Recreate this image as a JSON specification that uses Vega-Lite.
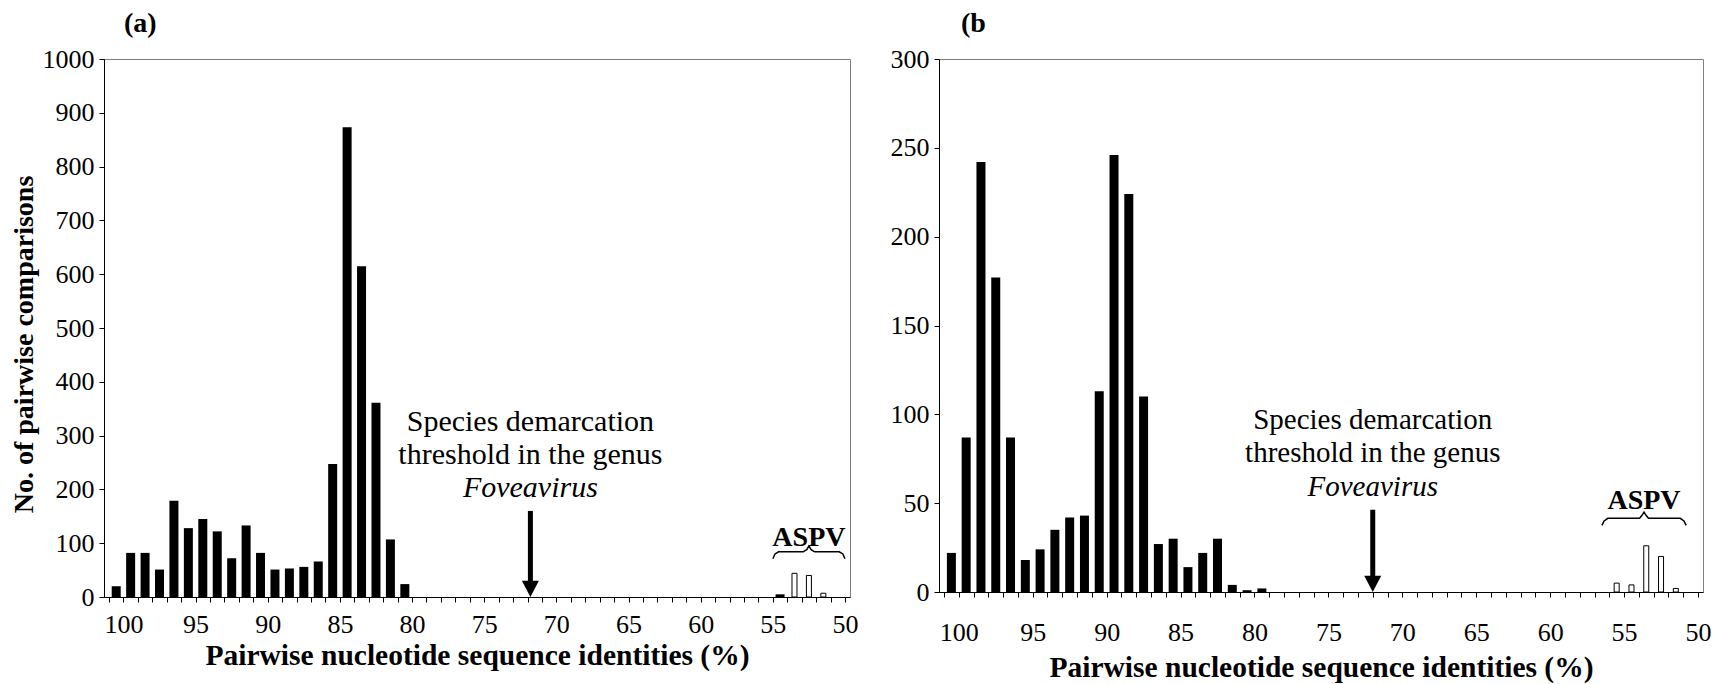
{
  "$schema": "https://vega.github.io/schema/vega-lite/v6.json",
  "background": "white",
  "padding": {"left": 9, "top": 9, "right": 5, "bottom": 3},
  "spacing": 30,
  "config": {
    "font": "Liberation Serif",
    "view": {"stroke": "#808080", "strokeWidth": 1},
    "axis": {
      "grid": false,
      "domainColor": "black",
      "tickColor": "black",
      "labelColor": "black",
      "titleColor": "black",
      "labelFont": "Liberation Serif",
      "titleFont": "Liberation Serif",
      "labelFontSize": 26,
      "titleFontSize": 28,
      "titleFontWeight": "bold",
      "labelFlush": false,
      "labelOverlap": false,
      "labelBound": false
    },
    "title": {"font": "Liberation Serif", "fontSize": 28, "fontWeight": "bold", "color": "black"}
  },
  "datasets": {
    "a_fill": [
      {"identity": 100.5, "count": 20}, {"identity": 99.5, "count": 82}, {"identity": 98.5, "count": 82},
      {"identity": 97.5, "count": 51}, {"identity": 96.5, "count": 179}, {"identity": 95.5, "count": 128},
      {"identity": 94.5, "count": 145}, {"identity": 93.5, "count": 122}, {"identity": 92.5, "count": 72},
      {"identity": 91.5, "count": 133}, {"identity": 90.5, "count": 82}, {"identity": 89.5, "count": 51},
      {"identity": 88.5, "count": 53}, {"identity": 87.5, "count": 56}, {"identity": 86.5, "count": 66},
      {"identity": 85.5, "count": 247}, {"identity": 84.5, "count": 873}, {"identity": 83.5, "count": 615},
      {"identity": 82.5, "count": 361}, {"identity": 81.5, "count": 107}, {"identity": 80.5, "count": 24},
      {"identity": 54.5, "count": 5}
    ],
    "a_open": [
      {"identity": 53.5, "count": 44}, {"identity": 52.5, "count": 40}, {"identity": 51.5, "count": 7}
    ],
    "b_fill": [
      {"identity": 100.5, "count": 22}, {"identity": 99.5, "count": 87}, {"identity": 98.5, "count": 242},
      {"identity": 97.5, "count": 177}, {"identity": 96.5, "count": 87}, {"identity": 95.5, "count": 18},
      {"identity": 94.5, "count": 24}, {"identity": 93.5, "count": 35}, {"identity": 92.5, "count": 42},
      {"identity": 91.5, "count": 43}, {"identity": 90.5, "count": 113}, {"identity": 89.5, "count": 246},
      {"identity": 88.5, "count": 224}, {"identity": 87.5, "count": 110}, {"identity": 86.5, "count": 27},
      {"identity": 85.5, "count": 30}, {"identity": 84.5, "count": 14}, {"identity": 83.5, "count": 22},
      {"identity": 82.5, "count": 30}, {"identity": 81.5, "count": 4}, {"identity": 80.5, "count": 1},
      {"identity": 79.5, "count": 2}
    ],
    "b_open": [
      {"identity": 55.5, "count": 5}, {"identity": 54.5, "count": 4}, {"identity": 53.5, "count": 26},
      {"identity": 52.5, "count": 20}, {"identity": 51.5, "count": 2}
    ],
    "a_arrow": [{"identity": 71.8, "count": 160, "count2": 28}],
    "a_head": [{"identity": 71.8, "count": 0}],
    "a_text": [
      {"identity": 71.8, "count": 309, "label": "Species demarcation"},
      {"identity": 71.8, "count": 247.5, "label": "threshold in the genus"}
    ],
    "a_italic": [{"identity": 71.8, "count": 186, "label": "Foveavirus"}],
    "a_brace": [
      {"identity": 55.0, "count": 71, "ord": 1}, {"identity": 54.85, "count": 80, "ord": 2},
      {"identity": 54.6, "count": 84, "ord": 3}, {"identity": 52.9, "count": 84, "ord": 4},
      {"identity": 52.65, "count": 88, "ord": 5}, {"identity": 52.5, "count": 95, "ord": 6},
      {"identity": 52.35, "count": 88, "ord": 7}, {"identity": 52.1, "count": 84, "ord": 8},
      {"identity": 50.4, "count": 84, "ord": 9}, {"identity": 50.15, "count": 80, "ord": 10},
      {"identity": 50.0, "count": 71, "ord": 11}
    ],
    "a_aspv": [{"identity": 52.5, "count": 95, "label": "ASPV"}],
    "b_arrow": [{"identity": 72, "count": 46.3, "count2": 8.5}],
    "b_head": [{"identity": 72, "count": 0}],
    "b_text": [
      {"identity": 72, "count": 91.5, "label": "Species demarcation"},
      {"identity": 72, "count": 72.9, "label": "threshold in the genus"}
    ],
    "b_italic": [{"identity": 72, "count": 54.3, "label": "Foveavirus"}],
    "b_brace": [
      {"identity": 56.5, "count": 37.5, "ord": 1}, {"identity": 56.35, "count": 40, "ord": 2},
      {"identity": 56.1, "count": 41.5, "ord": 3}, {"identity": 53.95, "count": 41.5, "ord": 4},
      {"identity": 53.8, "count": 43, "ord": 5}, {"identity": 53.65, "count": 45, "ord": 6},
      {"identity": 53.5, "count": 43, "ord": 7}, {"identity": 53.35, "count": 41.5, "ord": 8},
      {"identity": 51.2, "count": 41.5, "ord": 9}, {"identity": 50.95, "count": 40, "ord": 10},
      {"identity": 50.8, "count": 37.5, "ord": 11}
    ],
    "b_aspv": [{"identity": 53.65, "count": 46.5, "label": "ASPV"}]
  },
  "hconcat": [
    {
      "width": 746,
      "height": 538,
      "title": {"text": "(a)", "anchor": "start", "frame": "group", "dx": 20, "offset": 8},
      "encoding": {
        "x": {
          "field": "identity", "type": "quantitative",
          "scale": {"domain": [50, 101], "reverse": true, "nice": false, "zero": false},
          "title": "Pairwise nucleotide sequence identities (%)",
          "axis": {
            "values": [50,51,52,53,54,55,56,57,58,59,60,61,62,63,64,65,66,67,68,69,70,71,72,73,74,75,76,77,78,79,80,81,82,83,84,85,86,87,88,89,90,91,92,93,94,95,96,97,98,99,100,101],
            "labelExpr": "datum.value % 5 === 0 ? datum.label : ''",
            "format": "d", "tickSize": 5, "labelPadding": 9, "titlePadding": 4, "titleFontSize": 29.5
          }
        },
        "y": {
          "field": "count", "type": "quantitative",
          "scale": {"domain": [0, 1000], "nice": false},
          "title": "No. of pairwise comparisons",
          "axis": {"values": [0,100,200,300,400,500,600,700,800,900,1000], "format": "d", "tickSize": 5, "labelPadding": 5, "titlePadding": 4, "titleY": 285}
        }
      },
      "layer": [
        {"data": {"name": "a_fill"}, "mark": {"type": "bar", "orient": "vertical", "size": 9, "color": "black"}},
        {"data": {"name": "a_open"}, "mark": {"type": "bar", "orient": "vertical", "size": 5, "fill": "white", "stroke": "black", "strokeWidth": 1}},
        {"data": {"name": "a_arrow"}, "mark": {"type": "rule", "color": "black", "strokeWidth": 5, "strokeCap": "butt"}, "encoding": {"y2": {"field": "count2"}}},
        {"data": {"name": "a_head"}, "mark": {"type": "point", "shape": "M-1,-1.9L1,-1.9L0,0Z", "size": 289, "filled": true, "color": "black", "opacity": 1, "strokeWidth": 0}},
        {"data": {"name": "a_text"}, "mark": {"type": "text", "fontSize": 30, "baseline": "alphabetic", "align": "center", "color": "black"}, "encoding": {"text": {"field": "label"}}},
        {"data": {"name": "a_italic"}, "mark": {"type": "text", "fontSize": 30, "fontStyle": "italic", "baseline": "alphabetic", "align": "center", "color": "black"}, "encoding": {"text": {"field": "label"}}},
        {"data": {"name": "a_brace"}, "mark": {"type": "line", "color": "black", "strokeWidth": 1.5}, "encoding": {"order": {"field": "ord"}}},
        {"data": {"name": "a_aspv"}, "mark": {"type": "text", "fontSize": 28, "fontWeight": "bold", "baseline": "alphabetic", "align": "center", "color": "black"}, "encoding": {"text": {"field": "label"}}}
      ]
    },
    {
      "width": 764,
      "height": 533,
      "title": {"text": "(b", "anchor": "start", "frame": "group", "dx": 22, "offset": 8},
      "encoding": {
        "x": {
          "field": "identity", "type": "quantitative",
          "scale": {"domain": [50, 101], "reverse": true, "nice": false, "zero": false},
          "title": "Pairwise nucleotide sequence identities (%)",
          "axis": {
            "values": [50,51,52,53,54,55,56,57,58,59,60,61,62,63,64,65,66,67,68,69,70,71,72,73,74,75,76,77,78,79,80,81,82,83,84,85,86,87,88,89,90,91,92,93,94,95,96,97,98,99,100,101],
            "labelExpr": "datum.value % 5 === 0 ? datum.label : ''",
            "format": "d", "tickSize": 5, "labelPadding": 22, "titlePadding": 8, "titleFontSize": 29.5
          }
        },
        "y": {
          "field": "count", "type": "quantitative",
          "scale": {"domain": [0, 300], "nice": false},
          "title": null,
          "axis": {"values": [0,50,100,150,200,250,300], "format": "d", "tickSize": 5, "labelPadding": 5}
        }
      },
      "layer": [
        {"data": {"name": "b_fill"}, "mark": {"type": "bar", "orient": "vertical", "size": 9, "color": "black"}},
        {"data": {"name": "b_open"}, "mark": {"type": "bar", "orient": "vertical", "size": 5, "fill": "white", "stroke": "black", "strokeWidth": 1}},
        {"data": {"name": "b_arrow"}, "mark": {"type": "rule", "color": "black", "strokeWidth": 5, "strokeCap": "butt"}, "encoding": {"y2": {"field": "count2"}}},
        {"data": {"name": "b_head"}, "mark": {"type": "point", "shape": "M-1,-1.9L1,-1.9L0,0Z", "size": 289, "filled": true, "color": "black", "opacity": 1, "strokeWidth": 0}},
        {"data": {"name": "b_text"}, "mark": {"type": "text", "fontSize": 29, "baseline": "alphabetic", "align": "center", "color": "black"}, "encoding": {"text": {"field": "label"}}},
        {"data": {"name": "b_italic"}, "mark": {"type": "text", "fontSize": 29, "fontStyle": "italic", "baseline": "alphabetic", "align": "center", "color": "black"}, "encoding": {"text": {"field": "label"}}},
        {"data": {"name": "b_brace"}, "mark": {"type": "line", "color": "black", "strokeWidth": 1.5}, "encoding": {"order": {"field": "ord"}}},
        {"data": {"name": "b_aspv"}, "mark": {"type": "text", "fontSize": 28, "fontWeight": "bold", "baseline": "alphabetic", "align": "center", "color": "black"}, "encoding": {"text": {"field": "label"}}}
      ]
    }
  ]
}
